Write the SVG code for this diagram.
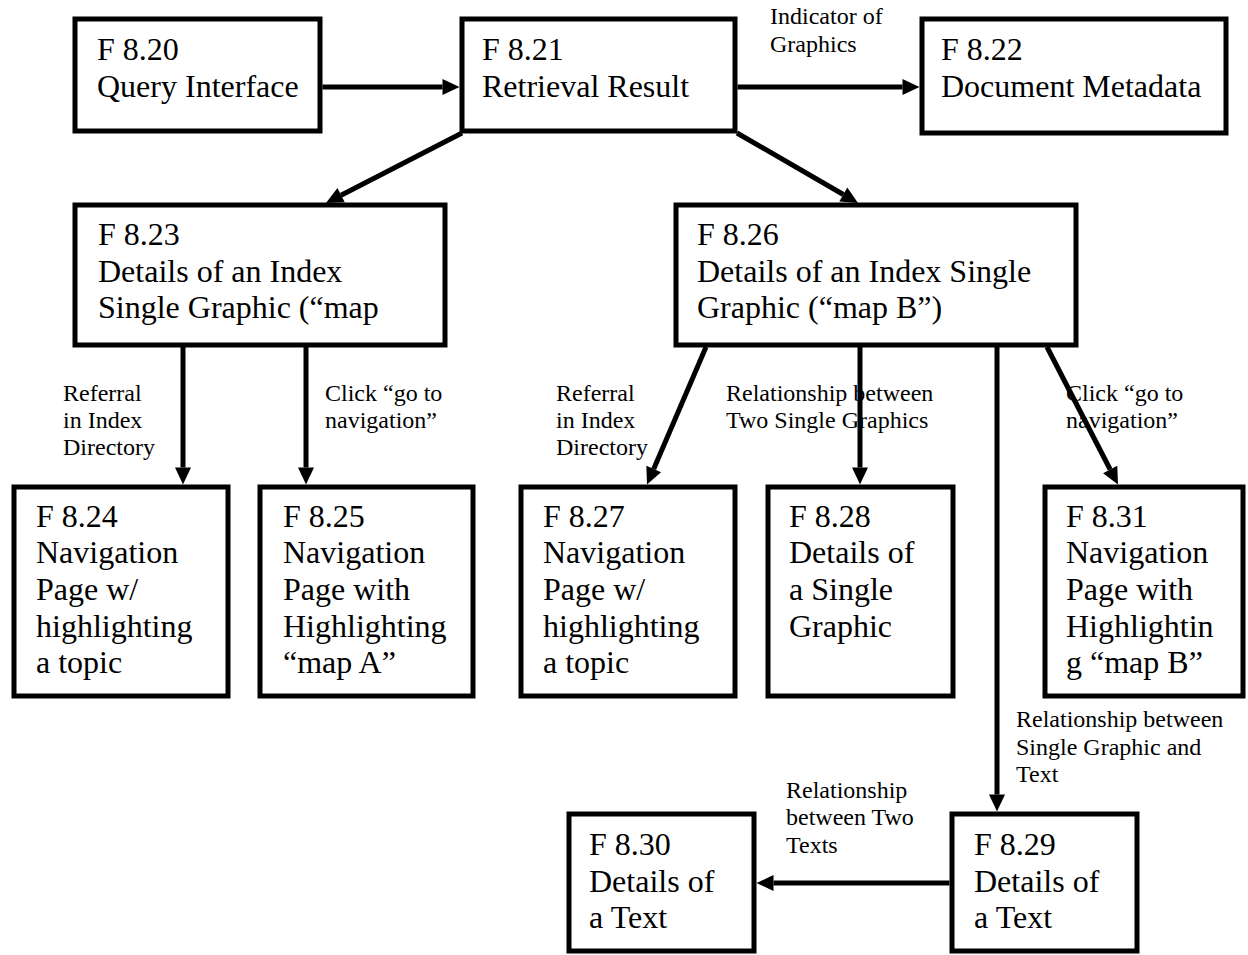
<svg xmlns="http://www.w3.org/2000/svg" width="1248" height="955" viewBox="0 0 1248 955">
<style>
.box rect{fill:#fff;stroke:#000;stroke-width:5}
.box text{font-family:"Liberation Serif","Times New Roman",serif;font-size:32px;fill:#000}
.lbl{font-family:"Liberation Serif","Times New Roman",serif;font-size:24px;fill:#000}
#connectors line{stroke:#000;stroke-width:5;marker-end:url(#ah)}
</style>
<defs>
<marker id="ah" markerUnits="userSpaceOnUse" markerWidth="18" markerHeight="16" refX="0" refY="8" orient="auto" overflow="visible">
<path d="M0,0 L17,8 L0,16 z" fill="#000"/>
</marker>
</defs>
<rect width="1248" height="955" fill="#fff"/>
<g id="connectors">
<line x1="322.5" y1="87" x2="442.5" y2="87"/>
<line x1="737.5" y1="87" x2="902.5" y2="87"/>
<line x1="462" y1="133" x2="341.1" y2="195.2"/>
<line x1="737" y1="133" x2="843.3" y2="194.5"/>
<line x1="183" y1="347" x2="183" y2="467.5"/>
<line x1="306" y1="347" x2="306" y2="467.5"/>
<line x1="706" y1="347" x2="653.7" y2="469"/>
<line x1="860" y1="347" x2="860" y2="467.5"/>
<line x1="997" y1="347" x2="997" y2="794.5"/>
<line x1="1047" y1="347" x2="1110.2" y2="469.5"/>
<line x1="949.5" y1="883" x2="773.5" y2="883"/>
</g>
<g id="labels">
<text class="lbl" x="770" y="24">Indicator of</text>
<text class="lbl" x="770" y="52">Graphics</text>
<text class="lbl"><tspan x="63" y="401">Referral</tspan><tspan x="63" y="428">in Index</tspan><tspan x="63" y="455">Directory</tspan></text>
<text class="lbl"><tspan x="325" y="401">Click “go to</tspan><tspan x="325" y="428">navigation”</tspan></text>
<text class="lbl"><tspan x="556" y="401">Referral</tspan><tspan x="556" y="428">in Index</tspan><tspan x="556" y="455">Directory</tspan></text>
<text class="lbl"><tspan x="726" y="401">Relationship between</tspan><tspan x="726" y="428">Two Single Graphics</tspan></text>
<text class="lbl"><tspan x="1066" y="401">Click “go to</tspan><tspan x="1066" y="428">navigation”</tspan></text>
<text class="lbl"><tspan x="1016" y="727">Relationship between</tspan><tspan x="1016" y="755">Single Graphic and</tspan><tspan x="1016" y="782">Text</tspan></text>
<text class="lbl"><tspan x="786" y="798">Relationship</tspan><tspan x="786" y="825">between Two</tspan><tspan x="786" y="853">Texts</tspan></text>
</g>
<g id="f820" class="box"><rect x="75" y="19" width="245" height="112"/><text><tspan x="97" y="60">F 8.20</tspan><tspan x="97" y="97">Query Interface</tspan></text></g>
<g id="f821" class="box"><rect x="462" y="19" width="273" height="112"/><text><tspan x="482" y="60">F 8.21</tspan><tspan x="482" y="97">Retrieval Result</tspan></text></g>
<g id="f822" class="box"><rect x="922" y="19" width="304" height="114"/><text><tspan x="941" y="60">F 8.22</tspan><tspan x="941" y="97">Document Metadata</tspan></text></g>
<g id="f823" class="box"><rect x="75" y="205" width="370" height="140"/><text><tspan x="98" y="245">F 8.23</tspan><tspan x="98" y="282">Details of an Index</tspan><tspan x="98" y="318">Single Graphic (“map</tspan></text></g>
<g id="f826" class="box"><rect x="676" y="205" width="400" height="140"/><text><tspan x="697" y="245">F 8.26</tspan><tspan x="697" y="282">Details of an Index Single</tspan><tspan x="697" y="318">Graphic (“map B”)</tspan></text></g>
<g id="f824" class="box"><rect x="14" y="487" width="214" height="209"/><text><tspan x="36" y="527">F 8.24</tspan><tspan x="36" y="563">Navigation</tspan><tspan x="36" y="600">Page w/</tspan><tspan x="36" y="637">highlighting</tspan><tspan x="36" y="673">a topic</tspan></text></g>
<g id="f825" class="box"><rect x="260" y="487" width="213" height="209"/><text><tspan x="283" y="527">F 8.25</tspan><tspan x="283" y="563">Navigation</tspan><tspan x="283" y="600">Page with</tspan><tspan x="283" y="637">Highlighting</tspan><tspan x="283" y="673">“map A”</tspan></text></g>
<g id="f827" class="box"><rect x="521" y="487" width="214" height="209"/><text><tspan x="543" y="527">F 8.27</tspan><tspan x="543" y="563">Navigation</tspan><tspan x="543" y="600">Page w/</tspan><tspan x="543" y="637">highlighting</tspan><tspan x="543" y="673">a topic</tspan></text></g>
<g id="f828" class="box"><rect x="768" y="487" width="185" height="209"/><text><tspan x="789" y="527">F 8.28</tspan><tspan x="789" y="563">Details of</tspan><tspan x="789" y="600">a Single</tspan><tspan x="789" y="637">Graphic</tspan></text></g>
<g id="f831" class="box"><rect x="1045" y="487" width="198" height="209"/><text><tspan x="1066" y="527">F 8.31</tspan><tspan x="1066" y="563">Navigation</tspan><tspan x="1066" y="600">Page with</tspan><tspan x="1066" y="637">Highlightin</tspan><tspan x="1066" y="673">g “map B”</tspan></text></g>
<g id="f830" class="box"><rect x="569" y="814" width="185" height="137"/><text><tspan x="589" y="855">F 8.30</tspan><tspan x="589" y="892">Details of</tspan><tspan x="589" y="928">a Text</tspan></text></g>
<g id="f829" class="box"><rect x="952" y="814" width="185" height="137"/><text><tspan x="974" y="855">F 8.29</tspan><tspan x="974" y="892">Details of</tspan><tspan x="974" y="928">a Text</tspan></text></g>
</svg>
